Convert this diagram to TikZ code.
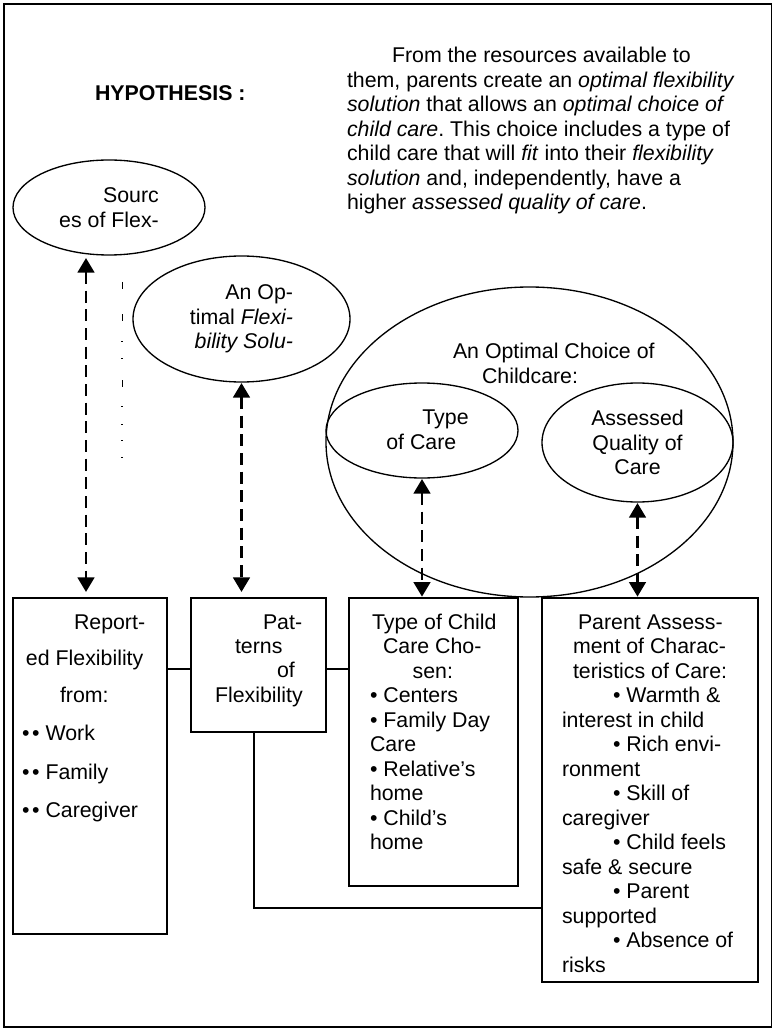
\documentclass[tikz,border=0pt]{standalone}
\usepackage{fontspec}
\setmainfont{Liberation Sans}
\usetikzlibrary{arrows.meta,shapes.geometric,fit}
\frenchspacing
\begin{document}
\begin{tikzpicture}[x=0.75pt,y=-0.75pt,
  every node/.style={inner sep=0pt, outer sep=0pt},
  txt/.style={font=\fontsize{16}{18.4}\selectfont, align=left, anchor=base west},
  oval/.style={draw, ellipse, line width=1pt, font=\fontsize{16}{18.4}\selectfont},
  boxnode/.style={draw, rectangle, line width=1.2pt},
  darr/.style={line width=2pt, dash pattern=on 9pt off 5pt, {Triangle[width=12.5pt,length=11pt]}-{Triangle[width=12.5pt,length=11pt]}},
  link/.style={line width=1pt},
  remnant/.style={line width=0.6pt}]
\useasboundingbox (0,0) rectangle (776,1030);
\draw[line width=1.2pt] (4,4) rectangle (771.5,1027);

% heading and hypothesis text (multi-line nodes are placed by the baseline of their last line)
\node[txt, font=\bfseries\fontsize{16}{18.4}\selectfont] (hyp) at (95,100.5) {HYPOTHESIS :};
\node[txt] (para) at (347,210) {\hspace*{33.75pt}From the resources available to\\them, parents create an \textit{optimal flexibility}\\\textit{solution} that allows an \textit{optimal choice of}\\\textit{child care}. This choice includes a type of\\child care that will \textit{fit} into their \textit{flexibility}\\\textit{solution} and, independently, have a\\higher \textit{assessed quality of care}.};

% ellipses
\node[oval, minimum width=144pt, minimum height=71.25pt, align=right] (src) at (109,207.5) {Sourc\\es of Flex-};
\node[oval, minimum width=162.75pt, minimum height=94.5pt, align=right] (fs) at (241.5,319) {An Op-\\timal \textit{Flexi-}\\\textit{bility Solu-}};
\node[oval, minimum width=305.25pt, minimum height=232.5pt] (oc) at (529.5,442) {};
\node[oval, minimum width=144pt, minimum height=71.25pt] (toc) at (422,430.5) {};
\node[oval, minimum width=143.25pt, minimum height=89.25pt, align=center] (aq) at (637.5,442.5) {Assessed\\Quality of\\Care};
\node[txt, anchor=center] (toct) at (427.5,430) {\hspace*{27pt}Type\\of Care};
\node[txt] (oct) at (453,383.5) {An Optimal Choice of\\\hspace*{21.75pt}Childcare:};

% clipped remnants
\foreach \yy in {282,314,380} \draw[remnant] (122,\yy) -- (122,\yy+7);
\foreach \yy in {341,358,406,424,440,457} \draw[remnant] (121,\yy) -- (123,\yy);

% boxes
\node[boxnode, fit={(13,598) (167,934)}] (b1) {};
\node[boxnode, fit={(191,598) (326,732)}] (b2) {};
\node[boxnode, fit={(349,598) (518,886)}] (b3) {};
\node[boxnode, fit={(542,598) (758,982)}] (b4) {};

% box texts
\node[txt] (r1) at (74,629) {Report-};
\node[txt] (r2) at (26,665) {ed Flexibility};
\node[txt] (r3) at (60,702) {from:};
\node[txt] (r4) at (22,740) {•\hspace{2pt}•\ Work};
\node[txt] (r5) at (22,779) {•\hspace{2pt}•\ Family};
\node[txt] (r6) at (22,817) {•\hspace{2pt}•\ Caregiver};

\node[txt] (p1) at (263,629) {Pat-};
\node[txt] (p2) at (235,653) {terns};
\node[txt] (p3) at (277,677) {of};
\node[txt] (p4) at (215,702) {Flexibility};

\node[txt] (t1) at (370,849.8) {\hspace*{1.5pt}Type of Child\\\hspace*{9.75pt}Care Cho-\\\hspace*{32pt}sen:\\• Centers\\• Family Day\\Care\\• Relative’s\\home\\• Child’s\\home};

\node[txt] (q1) at (562,972.5) {\hspace*{12pt}Parent Assess-\\\hspace*{8.25pt}ment of Charac-\\\hspace*{8.25pt}teristics of Care:\\\hspace*{38.25pt}• Warmth \&\\interest in child\\\hspace*{38.25pt}• Rich envi-\\ronment\\\hspace*{38.25pt}• Skill of\\caregiver\\\hspace*{38.25pt}• Child feels\\safe \& secure\\\hspace*{38.25pt}• Parent\\supported\\\hspace*{38.25pt}• Absence of\\risks};

% dashed double arrows
\coordinate (a1) at ([xshift=-3pt]b1.north);
\draw[darr, shorten <=2.25pt, shorten >=4.5pt] (a1 |- src.south) -- (a1);
\draw[darr, shorten <=0.75pt, shorten >=4.5pt] (fs.south) -- (fs.south |- b2.north);
\draw[darr, shorten <=0.75pt, shorten >=1pt] (toc.south) -- (toc.south |- b3.north);
\draw[darr, shorten <=0.75pt, shorten >=1pt] (aq.south) -- (aq.south |- b4.north);

% solid links
\coordinate (l1) at ([yshift=-3pt]b2.west);
\coordinate (l2) at ([yshift=-3pt]b2.east);
\coordinate (l3) at ([xshift=-3.4pt]b2.south);
\coordinate (l4) at ([yshift=-88.5pt]b4.west);
\draw[link] (b1.east |- l1) -- (l1);
\draw[link] (l2) -- (b3.west |- l2);
\draw[link] (l3) |- (l4);
\end{tikzpicture}
\end{document}
